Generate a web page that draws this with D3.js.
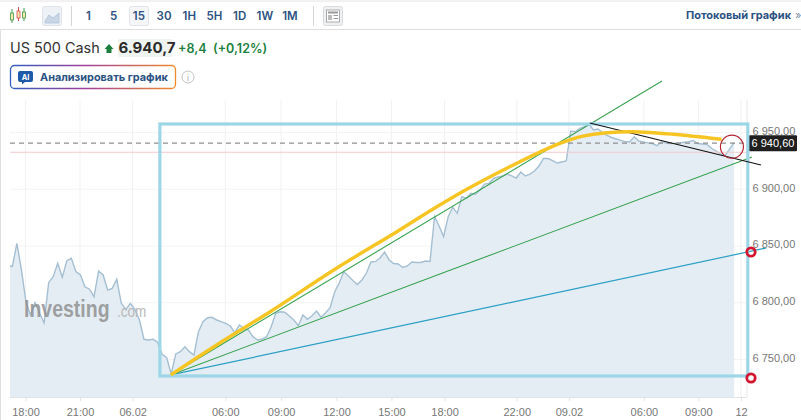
<!DOCTYPE html>
<html><head><meta charset="utf-8">
<script src="https://cdn.jsdelivr.net/npm/d3@7/dist/d3.min.js"></script>
<style>
html,body{margin:0;padding:0;background:#fff;overflow:hidden}
svg{display:block}
text{font-family:"Liberation Sans",Arial,sans-serif}
.ui{font-family:Inter,"Liberation Sans",sans-serif}
</style></head><body>
<svg id="c" width="801" height="420"></svg>
<script>
// 15-minute closes, one per bar
const prices = [6833.3,6831.8,6852.4,6828.9,6800.9,6789.2,6800.1,6791,6782.2,6817.7,6823,6834.8,6822.4,6837.1,6839.2,6827.4,6824.5,6814.1,6811.9,6805.3,6828,6824.5,6811.2,6812.7,6820.7,6799.5,6794.2,6799.5,6794.2,6784.8,6767.8,6767.2,6767.8,6765.2,6754.6,6751.6,6737.2,6754.9,6756.9,6761.3,6756.9,6754,6774.5,6783.3,6786.8,6787.2,6784.8,6783.3,6781.9,6779.5,6773.6,6780.4,6777.5,6776,6770.1,6767.2,6767.8,6770.1,6778.6,6790.7,6792.1,6791.6,6788.3,6784.8,6779.8,6789.2,6785.4,6788.6,6792.7,6787.2,6791.2,6795.6,6809.5,6817.4,6827.4,6823.6,6819.6,6816.1,6820.1,6826.2,6835.9,6836.4,6839.4,6844.7,6837.7,6834.6,6834.1,6831.1,6832.4,6835.9,6835.5,6835.5,6836.8,6836.4,6875.8,6867.6,6858.2,6875.8,6884.1,6878.8,6893.4,6892,6896.4,6895.6,6899.3,6904.6,6905.2,6909.5,6910.8,6911.7,6913.4,6911.7,6909.9,6915.2,6911.7,6913.4,6916.1,6920.5,6927.1,6927.1,6925.3,6923.1,6924,6924.9,6951.3,6950.7,6953.7,6955.1,6957.5,6952.2,6953.1,6950,6947.4,6945.6,6944.3,6943,6941.9,6941.9,6946.3,6942.5,6941.6,6940.9,6940.3,6938.4,6941.9,6940.7,6940.3,6940.5,6940.9,6941.4,6941.9,6943,6940.3,6939.9,6939.4,6936.1,6933.7,6931.1,6929.6,6935.6,6941.2];
const tickBars = [3.9,15.9,27.5,47.9,60.2,72.4,84.5,96.2,112.1,123.6,140.1,152.1,161.5];
const tickLabels = ["18:00","21:00","06.02","06:00","09:00","12:00","15:00","18:00","22:00","09.02","06:00","09:00","12"];
const priceTicks = [6750,6800,6850,6900,6950];
const lastPrice = 6940.6;
const prevClose = 6932.6;
// drawn annotations, in [bar, price]
const frameBars = [33.5,163];
const framePrices = [6735.5,6957.5];
const greenUpper = [[35.9,6736.4],[144.1,6995.4]];
const greenLower = [[35.9,6736.4],[163.9,6928.4]];
const blueFan = [[35.9,6736.4],[167,6848.2]];
const blackLine = [[128.2,6958.4],[165.9,6921.4]];
const yellowCurve = [[35.9,6736.4],[46,6762.8],[57.8,6792.1],[72.4,6830.4],[85.7,6862.6],[94.5,6884.6],[101.8,6901.6],[112.8,6924.3],[121.6,6940.4],[126.7,6946.8],[132,6949.8],[137.7,6950.7],[146.5,6948.5],[157.2,6944]];
const bigRing = [159.5,6937.5];
const smallRings = [[163.7,6844.7],[163.7,6733.7]];
const intervals = ["1","5","15","30","1H","5H","1D","1W","1M"];

const svg = d3.select("#c");
const x = d3.scaleLinear().domain([0,160]).range([7.8,734.2]);
const y = d3.scaleLinear().domain([6750,6950]).range([359.5,132.5]);
const axisBottomY = 397, axisRightX = 746.5, plotLeft = 10;
const ruFmt = d3.formatLocale({decimal:",",thousands:" ",grouping:[3],currency:["",""]}).format(",.2f");

const defs = svg.append("defs");
defs.append("clipPath").attr("id","plot").append("rect").attr("x",plotLeft).attr("y",100).attr("width",736).attr("height",297);
const g = defs.append("linearGradient").attr("id","aiGrad").attr("gradientUnits","userSpaceOnUse")
  .attr("x1",10).attr("x2",175).attr("y1",0).attr("y2",0);
g.append("stop").attr("offset","0").attr("stop-color","#2f5fc0");
g.append("stop").attr("offset",".45").attr("stop-color","#a0409a");
g.append("stop").attr("offset","1").attr("stop-color","#ee8a2c");

// toolbar
const tb = svg.append("g");
tb.append("line").attr("x1",0).attr("x2",801).attr("y1",1).attr("y2",1).attr("stroke","#e3e3e3").attr("stroke-width",1.2);
tb.append("line").attr("x1",0).attr("x2",801).attr("y1",29.5).attr("y2",29.5).attr("stroke","#dedede");
tb.append("line").attr("x1",0.5).attr("x2",0.5).attr("y1",29).attr("y2",420).attr("stroke","#e0e0e0");
[[12,"#3f9a4a",11,21],[18.5,"#d8494a",9,19],[24,"#3f9a4a",10,19]].forEach(c=>{
  tb.append("line").attr("x1",c[0]).attr("x2",c[0]).attr("y1",c[2]-2).attr("y2",c[3]+2).attr("stroke",c[1]);
  tb.append("rect").attr("x",c[0]-1.5).attr("y",c[2]+2).attr("width",3).attr("height",c[3]-c[2]-3).attr("fill","#f3e8b0").attr("stroke",c[1]).attr("stroke-width",.8);
});
tb.append("rect").attr("x",42.5).attr("y",6.5).attr("width",19).attr("height",19).attr("rx",2).attr("fill","#eef1f5").attr("stroke","#dfe3e8");
tb.append("path").attr("d","M45 21 L49 15 L53 18 L59 13 L59 23 L45 23 Z").attr("fill","#c9d6e6").attr("stroke","#a9bdd6").attr("stroke-width",.7);
[71.5,313.5].forEach(v=>tb.append("line").attr("x1",v).attr("x2",v).attr("y1",6).attr("y2",26).attr("stroke","#d5d5d5"));
tb.append("rect").attr("x",129.5).attr("y",6.5).attr("width",19).attr("height",19).attr("rx",2).attr("fill","#f4f6f8").attr("stroke","#e0e3e7");
const btnX = d3.scalePoint().domain(intervals).range([88.5,290]);
tb.selectAll(".btn").data(intervals).join("text").attr("class","btn ui")
  .attr("x",d=>btnX(d)).attr("y",19.5).attr("text-anchor","middle").attr("font-size",11.5).attr("font-weight",600).attr("fill","#2c5282").text(d=>d);
tb.append("rect").attr("x",323.5).attr("y",6.5).attr("width",19).attr("height",19).attr("rx",2).attr("fill","#eef0f2").attr("stroke","#d9dcdf");
tb.append("rect").attr("x",326.5).attr("y",10).attr("width",13).attr("height",12).attr("fill","#fff").attr("stroke","#9a9a9a").attr("stroke-width",.8);
tb.append("rect").attr("x",328).attr("y",11.5).attr("width",10).attr("height",2).attr("fill","#999");
tb.append("rect").attr("x",328).attr("y",15).attr("width",4).attr("height",5).attr("fill","#bbb");
tb.append("rect").attr("x",333.5).attr("y",15).attr("width",4.5).attr("height",1).attr("fill","#999");
tb.append("rect").attr("x",333.5).attr("y",18).attr("width",4.5).attr("height",1).attr("fill","#999");
tb.append("text").attr("class","ui").attr("x",686).attr("y",19).attr("font-size",11).attr("font-weight",700).attr("fill","#2c5282").text("Потоковый график");
tb.append("text").attr("class","ui").attr("x",795).attr("y",19).attr("font-size",11).attr("fill","#7f8fa6").text("»");

// header
const hd = svg.append("g");
hd.append("text").attr("class","ui").attr("x",10).attr("y",53).attr("font-size",14.4).attr("fill","#333").text("US 500 Cash");
hd.append("path").attr("d","M109 44 L113.5 49 L111.5 49 L111.5 53 L106.5 53 L106.5 49 L104.5 49 Z").attr("fill","#1b7f3e");
hd.append("rect").attr("x",118).attr("y",39).attr("width",54).attr("height",18).attr("fill","#eef4f0");
hd.append("text").attr("class","ui").attr("x",118.5).attr("y",53).attr("font-size",15).attr("font-weight",700).attr("fill","#2b2b2b").text("6.940,7");
hd.append("text").attr("class","ui").attr("x",178).attr("y",52.5).attr("font-size",12.5).attr("font-weight",600).attr("fill","#1b7f3e").text("+8,4");
hd.append("text").attr("class","ui").attr("x",213).attr("y",52.5).attr("font-size",12.5).attr("font-weight",600).attr("fill","#1b7f3e").text("(+0,12%)");
hd.append("rect").attr("x",10.5).attr("y",65.5).attr("width",165).attr("height",23).attr("rx",4).attr("fill","#fff").attr("stroke","url(#aiGrad)").attr("stroke-width",1.3);
hd.append("path").attr("d","M20 71 h11 a2 2 0 0 1 2 2 v7 a2 2 0 0 1 -2 2 h-6 l-3 2.5 v-2.5 h-2 a2 2 0 0 1 -2 -2 v-7 a2 2 0 0 1 2 -2 Z").attr("fill","#1f5aa8");
hd.append("text").attr("class","ui").attr("x",25.5).attr("y",79.5).attr("text-anchor","middle").attr("font-size",7.5).attr("font-weight",700).attr("fill","#fff").text("AI");
hd.append("text").attr("class","ui").attr("x",40).attr("y",81).attr("font-size",10.9).attr("font-weight",700).attr("fill","#2c5282").text("Анализировать график");
hd.append("circle").attr("cx",188).attr("cy",77).attr("r",6).attr("fill","none").attr("stroke","#c4c4c4");
hd.append("text").attr("x",188).attr("y",80.5).attr("text-anchor","middle").attr("font-size",9).attr("fill","#aaa").text("i");

// grid + axes
const grid = svg.append("g");
grid.selectAll(".gv").data(tickBars).join("line").attr("x1",d=>x(d)).attr("x2",d=>x(d)).attr("y1",100).attr("y2",axisBottomY).attr("stroke","#f1f1f1");
grid.selectAll(".gh").data(priceTicks).join("line").attr("x1",plotLeft).attr("x2",axisRightX).attr("y1",d=>y(d)).attr("y2",d=>y(d)).attr("stroke","#f3f3f3");

// area + line
const plot = svg.append("g").attr("clip-path","url(#plot)");
const bars = d3.range(prices.length);
plot.append("path").datum(bars).attr("fill","#e4edf4")
  .attr("d",d3.area().x(i=>x(i)).y0(axisBottomY).y1(i=>y(prices[i])));
plot.append("path").datum(bars).attr("fill","none").attr("stroke","#a5bfd2").attr("stroke-width",1.4)
  .attr("d",d3.line().x(i=>x(i)).y(i=>y(prices[i])));
svg.append("line").attr("x1",plotLeft).attr("x2",axisRightX).attr("y1",y(prevClose)).attr("y2",y(prevClose)).attr("stroke","#f3c9cd").attr("stroke-width",1.2);
svg.append("line").attr("x1",plotLeft).attr("x2",axisRightX).attr("y1",y(lastPrice)).attr("y2",y(lastPrice)).attr("stroke","#8f8f8f").attr("stroke-width",1.3).attr("stroke-dasharray","5 4");

const xAxis = svg.append("g").attr("transform",`translate(0,${axisBottomY})`)
  .call(d3.axisBottom(x).tickValues(tickBars).tickFormat((d,i)=>tickLabels[i]).tickSize(4).tickPadding(7));
xAxis.select(".domain").attr("d",`M${plotLeft},0.5H${axisRightX}`).attr("stroke","#e2e2e2");
xAxis.selectAll(".tick line").attr("stroke","#e2e2e2");
xAxis.selectAll("text").attr("font-size",11).attr("fill","#777").attr("font-family","Liberation Sans");
const yAxis = svg.append("g").attr("transform",`translate(${axisRightX},0)`)
  .call(d3.axisRight(y).tickValues(priceTicks).tickFormat(ruFmt).tickSize(0).tickPadding(6));
yAxis.select(".domain").attr("d",`M0.5,100V${axisBottomY}`).attr("stroke","#e6e6e6");
yAxis.selectAll("text").attr("font-size",11).attr("fill","#777").attr("dy","0.18em").attr("font-family","Liberation Sans");

// watermark
svg.append("text").attr("transform","translate(24,317) scale(1,1.25)").attr("font-size",19.5).attr("font-weight",700).attr("fill","#8a8a8a").attr("fill-opacity",.8).attr("font-family","Open Sans").text("Investing");
svg.append("text").attr("transform","translate(117,317) scale(1,1.25)").attr("font-size",13.5).attr("fill","#b8b8b8").attr("font-family","Open Sans").text(".com");

// price tag
const tag = svg.append("g");
tag.append("rect").attr("x",749).attr("y",y(lastPrice)-8).attr("width",48).attr("height",16).attr("rx",1).attr("fill","#1f1f1f");
tag.append("text").attr("x",773).attr("y",y(lastPrice)+3.8).attr("text-anchor","middle").attr("font-size",11).attr("fill","#fff").text(ruFmt(lastPrice));

// annotations
const ann = svg.append("g");
const ln = d3.line().x(d=>x(d[0])).y(d=>y(d[1]));
ann.append("path").datum(blueFan).attr("d",ln).attr("fill","none").attr("stroke","#2a9fc4").attr("stroke-width",1.2);
ann.append("path").datum(greenLower).attr("d",ln).attr("fill","none").attr("stroke","#37a24f").attr("stroke-width",1.1);
ann.append("path").datum(greenUpper).attr("d",ln).attr("fill","none").attr("stroke","#37a24f").attr("stroke-width",1.1);
ann.append("rect").attr("x",x(frameBars[0])).attr("y",y(framePrices[1])).attr("width",x(frameBars[1])-x(frameBars[0])).attr("height",y(framePrices[0])-y(framePrices[1]))
  .attr("fill","none").attr("stroke","#9dd6e6").attr("stroke-width",3.2);
ann.append("path").datum(blackLine).attr("d",ln).attr("fill","none").attr("stroke","#111").attr("stroke-width",1.1);
ann.append("path").datum(yellowCurve).attr("d",d3.line().x(d=>x(d[0])).y(d=>y(d[1])).curve(d3.curveCatmullRom.alpha(0.5))).attr("fill","none").attr("stroke","#f6c524").attr("stroke-width",3.4);
ann.append("circle").attr("cx",x(bigRing[0])).attr("cy",y(bigRing[1])).attr("r",11.5).attr("fill","none").attr("stroke","#b3242f").attr("stroke-width",1.2);
ann.selectAll(".sr").data(smallRings).join("circle").attr("cx",d=>x(d[0])).attr("cy",d=>y(d[1])).attr("r",4.2).attr("fill","none").attr("stroke","#d3152f").attr("stroke-width",2.8);
</script>
</body></html>
